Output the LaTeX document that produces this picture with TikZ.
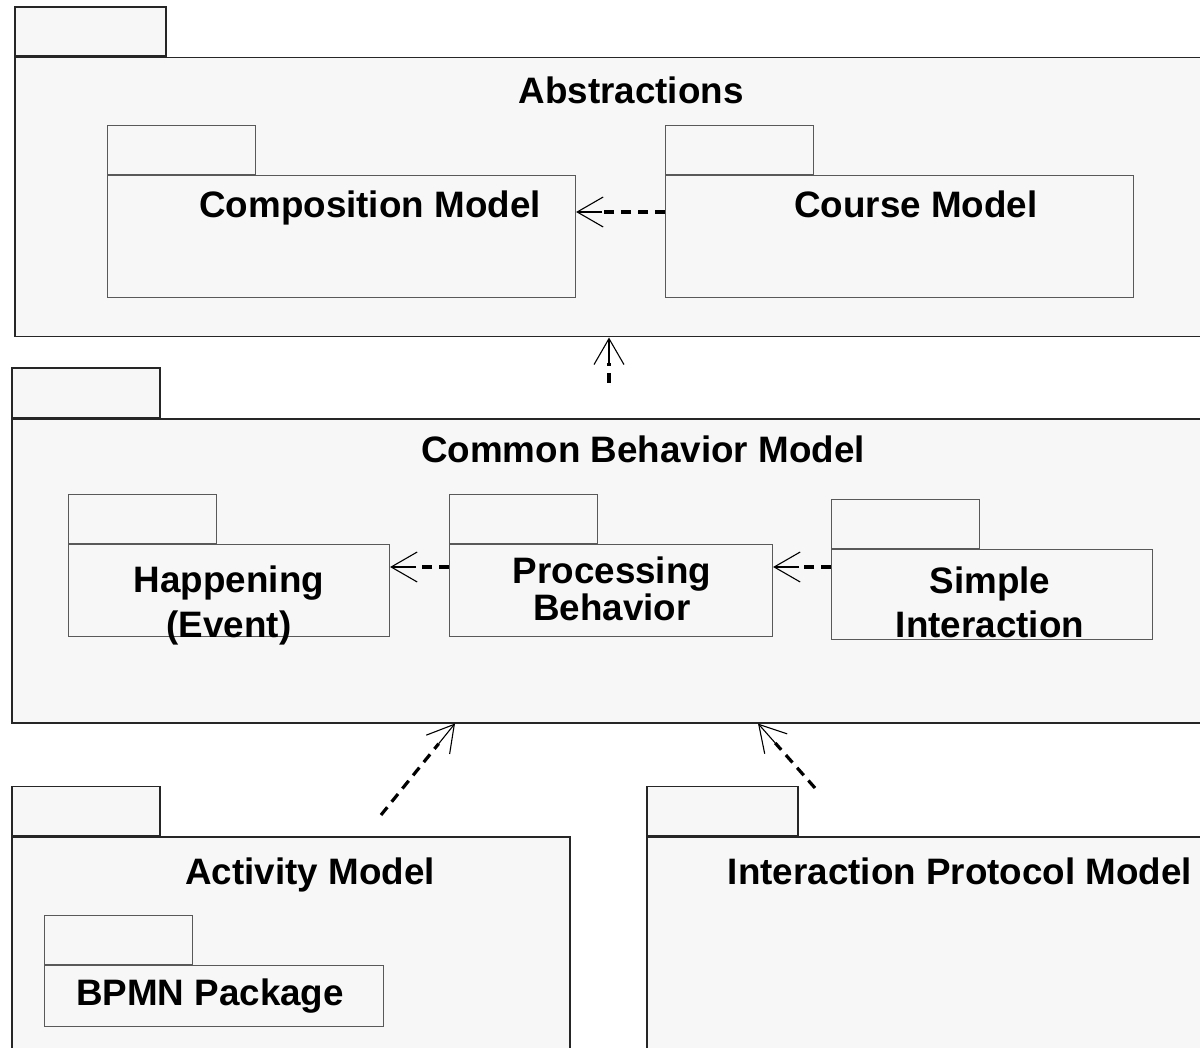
\documentclass[tikz,border=0pt]{standalone}
\usepackage{fontspec}
\setmainfont{Liberation Sans}
\usetikzlibrary{arrows.meta}
\usetikzlibrary{calc}
\usetikzlibrary{positioning}

\newcommand{\dependency}[2]{%
    \draw[dep] (#1) -- ($(#2)!13pt!(#1)$);
    \draw[head] ($(#2)!13pt!(#1)$) -- (#2);
}

\begin{document}
\begin{tikzpicture}[x=0.5pt, y=-0.5pt,
                pkg/.style={draw=black!85, line width=0.75pt, fill=black!3,
                        anchor=north west, inner sep=0pt},
                sub/.style={pkg, draw=black!65, line width=0.55pt},
                tab/.style={minimum width=74pt, minimum height=24.5pt, anchor=south west},
                title/.style={font=\fontsize{18.4}{22.5}\selectfont\bfseries,
                        align=center, anchor=base, inner sep=0pt},
                dep/.style={line width=1.6pt, dash pattern=on 5pt off 3.5pt},
                head/.style={line width=0.55pt, -{Straight Barb[length=13pt,width=15pt]}},
            ]
            \clip (0,0) rectangle (1200,1048);

            % outer packages
            \node[pkg, minimum width=618pt, minimum height=139.5pt] (abs) at (14,57) {};
            \node[pkg, tab, minimum width=75.5pt] (abs_tab) at (abs.north west) {};
            \node[pkg, minimum width=630pt, minimum height=152pt] (cbm) at (11,418) {};
            \node[pkg, tab] (cbm_tab) at (cbm.north west) {};
            \node[pkg, minimum width=279pt, minimum height=132pt] (act) at (11,836) {};
            \node[pkg, tab] (act_tab) at (act.north west) {};
            \node[pkg, minimum width=320pt, minimum height=132pt] (ipm) at (646,836) {};
            \node[pkg, tab, minimum width=75.5pt] (ipm_tab) at (ipm.north west) {};

            % inner packages
            \node[sub, minimum width=234pt, minimum height=61pt] (comp) at (107,175) {};
            \node[sub, tab] (comp_tab) at (comp.north west) {};
            \node[sub, minimum width=234pt, minimum height=61pt] (course) at (665,175) {};
            \node[sub, tab] (course_tab) at (course.north west) {};
            \node[sub, minimum width=160.5pt, minimum height=46pt] (hap) at (68,544) {};
            \node[sub, tab] (hap_tab) at (hap.north west) {};
            \node[sub, minimum width=161.5pt, minimum height=46pt] (proc) at (449,544) {};
            \node[sub, tab] (proc_tab) at (proc.north west) {};
            \node[sub, minimum width=160.5pt, minimum height=45pt] (simple) at (831,549) {};
            \node[sub, tab] (simple_tab) at (simple.north west) {};
            \node[sub, minimum width=169.5pt, minimum height=30.5pt] (bpmn) at (44,965) {};
            \node[sub, tab] (bpmn_tab) at (bpmn.north west) {};

            % titles
            \node[title] (abs_t) at (631,104) {Abstractions};
            \node[title] (comp_t) at (370,218) {Composition Model};
            \node[title] (course_t) at (916,218) {Course Model};
            \node[title] (cbm_t) at (643,462) {Common Behavior Model};
            \node[title] (hap_t) at (229,637) {Happening\\(Event)};
            \node[title, font=\fontsize{18.4}{16}\selectfont\bfseries] (proc_t) at (612,620) {Processing\\Behavior};
            \node[title, font=\fontsize{18.4}{22}\selectfont\bfseries] (simple_t) at (990,637) {Simple\\Interaction};
            \node[title] (act_t) at (310,884) {Activity Model};
            \node[title] (ipm_t) at (960,884) {Interaction Protocol Model};
            \node[title] (bpmn_t) at (210,1005) {BPMN Package};

            % dependencies
            \coordinate (course_out) at ($(course.north west)+(0,37)$);
            \coordinate (comp_in) at ($(comp.north east)+(0,37)$);
            \coordinate (simple_out) at ($(simple.north west)+(0,18)$);
            \coordinate (proc_in) at ($(proc.north east)+(0,23)$);
            \coordinate (proc_out) at ($(proc.north west)+(0,23)$);
            \coordinate (hap_in) at ($(hap.north east)+(0,23)$);
            \coordinate (cbm_out) at (609,383);
            \coordinate (abs_in) at ($(abs.south west)+(595,0)$);
            \coordinate (act_out) at (381,815);
            \coordinate (cbm_in_a) at ($(cbm.south west)+(444,0)$);
            \coordinate (ipm_out) at (815,788);
            \coordinate (cbm_in_b) at ($(cbm.south west)+(747,0)$);

            \dependency{course_out}{comp_in}
            \dependency{simple_out}{proc_in}
            \dependency{proc_out}{hap_in}
            \dependency{cbm_out}{abs_in}
            \dependency{act_out}{cbm_in_a}
            \dependency{ipm_out}{cbm_in_b}
        \end{tikzpicture}
\end{document}
